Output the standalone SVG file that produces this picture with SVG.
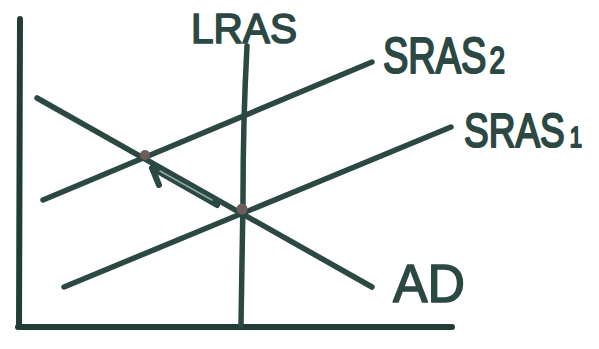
<svg xmlns="http://www.w3.org/2000/svg" width="599" height="349" viewBox="0 0 599 349">
<style>
.ln{fill:none;stroke:#2b4843;stroke-width:5.5;stroke-linecap:round;stroke-linejoin:round}
.ax{fill:none;stroke:#223d38;stroke-width:6;stroke-linecap:round}
.lbl{font-family:"Liberation Sans",Arial,sans-serif;fill:#2b4843;stroke:#2b4843;stroke-width:1.6;stroke-linejoin:round}
.dot{fill:#6e5c58}
</style>
<rect width="599" height="349" fill="#ffffff"/>
<g id="axes">
<path class="ax" d="M20,19 L19,327"/>
<path class="ax" d="M18,327 L452,327"/>
</g>
<g id="curves">
<g id="lras"><path class="ln" d="M247,46 Q243,120 243,200 L241,325"/></g>
<g id="sras2"><path class="ln" d="M43,200 L372,62"/></g>
<g id="sras1"><path class="ln" d="M64,287 L451,127"/></g>
<g id="ad"><path class="ln" d="M37,98 L372,287"/></g>
</g>
<g id="connectors">
<path d="M217,205 L152,168 M152,168 L159,185" fill="none" stroke="#2b4843" stroke-width="6" stroke-linecap="round" stroke-linejoin="round"/>
<path d="M212,200 L160,171" fill="none" stroke="#8fa8a4" stroke-width="1.5" stroke-linecap="round"/>
</g>
<g id="points">
<circle class="dot" cx="145" cy="155" r="5"/>
<circle class="dot" cx="242" cy="209" r="5.5"/>
</g>
<g id="labels">
<text class="lbl" transform="translate(191,43) scale(1,1.05)" x="0" y="0" font-size="40" textLength="106" lengthAdjust="spacingAndGlyphs">LRAS</text>
<text class="lbl" transform="translate(383,73) scale(1,1.3)" x="0" y="0" font-size="38">SRAS<tspan font-size="28" dx="3">2</tspan></text>
<text class="lbl" transform="translate(464,147) scale(1,1.3)" x="0" y="0" font-size="37">SRAS<tspan font-size="22" dx="5">1</tspan></text>
<text class="lbl" x="393" y="302" font-size="54" textLength="72" lengthAdjust="spacingAndGlyphs">AD</text>
</g>
</svg>
